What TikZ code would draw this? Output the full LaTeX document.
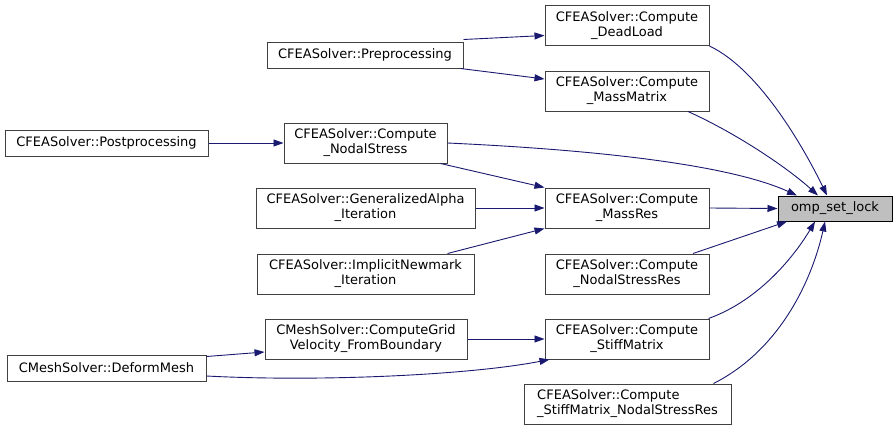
\documentclass[tikz,border=0pt]{standalone}
\usepackage{fontspec}
\setmainfont{DejaVu Sans}
\usetikzlibrary{arrows.meta}
\definecolor{edgeblue}{HTML}{191970}
\definecolor{boxgray}{HTML}{404040}
\definecolor{lockfill}{HTML}{BFBFBF}
\tikzset{>={Triangle[length=10pt,width=7pt]}}
\tikzset{font=\fontsize{13}{15}\selectfont}
\tikzset{fn/.style={draw=boxgray, line width=1pt, rectangle, align=center,
    inner xsep=2pt, inner ysep=0pt, minimum height=40pt}}
\tikzset{fnone/.style={fn, minimum height=26pt}}
\tikzset{call/.style={->, draw=edgeblue, line width=0.9pt}}

\begin{document}
\begin{tikzpicture}[x=1pt, y=-1pt]
  \useasboundingbox (0,0) rectangle (896,431);
  % callee
  \node[fnone, draw=black, fill=lockfill, minimum width=114pt, minimum height=25pt] (lock) at (835,208.5) {omp\_set\_lock};
  % direct callers
  \node[fn, minimum width=164pt] (dead) at (627,25.5) {CFEASolver::Compute\\\_DeadLoad};
  \node[fn, minimum width=164pt] (mm) at (627,91) {CFEASolver::Compute\\\_MassMatrix};
  \node[fn, minimum width=164pt] (mr) at (627,208) {CFEASolver::Compute\\\_MassRes};
  \node[fn, minimum width=164pt] (nsr) at (627,274) {CFEASolver::Compute\\\_NodalStressRes};
  \node[fn, minimum width=164pt] (sm) at (627,339) {CFEASolver::Compute\\\_StiffMatrix};
  \node[fn, minimum width=207pt, align=left] (smn) at (627.5,404) {CFEASolver::Compute\\\_StiffMatrix\_NodalStressRes};
  \node[fn, minimum width=163pt] (nodal) at (365.5,143) {CFEASolver::Compute\\\_NodalStress};
  % second level
  \node[fnone, minimum width=196pt] (pre) at (365,55) {CFEASolver::Preprocessing};
  \node[fn, minimum width=219pt] (ga) at (365.5,208) {CFEASolver::GeneralizedAlpha\\\_Iteration};
  \node[fn, minimum width=217pt] (imp) at (365.5,274) {CFEASolver::ImplicitNewmark\\\_Iteration};
  \node[fn, minimum width=202pt] (gv) at (366,339) {CMeshSolver::ComputeGrid\\Velocity\_FromBoundary};
  \node[fnone, minimum width=203pt] (post) at (106.5,143) {CFEASolver::Postprocessing};
  \node[fnone, minimum width=199pt] (dm) at (106.5,368) {CMeshSolver::DeformMesh};

  \draw[call] (dead.south east) .. controls (760,70) and (805,150) .. ([xshift=-8pt]lock.north);
  \draw[call] ([xshift=61pt]mm.south) .. controls (740,135) and (790,170) .. ([xshift=-17pt]lock.north);
  \draw[call] (nodal.east) .. controls (600,150) and (730,165) .. ([xshift=-38pt]lock.north);
  \draw[call] (mr.east) -- (lock.west);
  \draw[call] ([xshift=66pt]nsr.north) -- ([xshift=-48pt]lock.south);
  \draw[call] ([xshift=-1pt]sm.north east) .. controls (760,300) and (795,255) .. ([xshift=-20pt]lock.south);
  \draw[call] ([xshift=86pt]smn.north) .. controls (780,350) and (812,280) .. ([xshift=-10pt]lock.south);

  \draw[call] ([yshift=2pt]pre.north east) -- ([yshift=-10pt]dead.west);
  \draw[call] ([xshift=-3pt]pre.south east) -- ([yshift=12pt]mm.west);
  \draw[call] (post.east) -- (nodal.west);
  \draw[call] ([xshift=-7pt]nodal.south east) -- (mr.north west);
  \draw[call] (ga.east) -- (mr.west);
  \draw[call] ([xshift=-27pt]imp.north east) -- (mr.south west);
  \draw[call] (gv.east) -- (sm.west);
  \draw[call] ([yshift=-2pt]dm.north east) -- ([yshift=-13pt]gv.west);
  \draw[call] ([yshift=-8pt]dm.east) .. controls (320,382) and (470,375) .. ([xshift=5pt]sm.south west);
\end{tikzpicture}
\end{document}
